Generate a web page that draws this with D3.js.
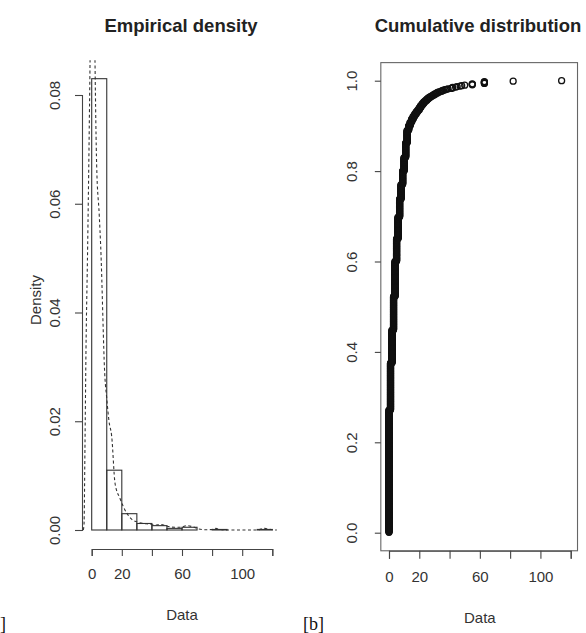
<!DOCTYPE html>
<html>
<head>
<meta charset="utf-8">
<script src="https://cdn.jsdelivr.net/npm/d3@7"></script>
<style>
  html, body { margin: 0; padding: 0; background: #fff; }
  svg { display: block; font-family: "Liberation Sans", Arial, sans-serif; }
</style>
</head>
<body>
<svg id="chart" width="586" height="633"></svg>
<script>
// observed values (integer data) and how many times each occurs, n = 1000
const sampleValues = [0, 1, 2, 3, 4, 5, 6, 7, 8, 9, 10,
  11, 12, 13, 14, 15, 16, 17, 18, 19, 20,
  21, 22, 23, 24, 25, 26, 27, 28, 29, 30,
  31, 32, 33, 34, 35, 36, 37, 38, 39,
  41, 42, 44, 45, 47, 48, 50, 55, 63, 82, 114];
const sampleCounts = [271, 104, 73, 74, 78, 50, 48, 40, 32, 30, 30,
  32, 28, 10, 8, 7, 6, 5, 5, 4, 5,
  5, 4, 4, 3, 3, 3, 2, 2, 2, 2,
  2, 2, 1, 1, 2, 1, 1, 1, 1,
  1, 2, 1, 1, 1, 1, 1, 3, 5, 1, 1];

// histogram breaks
const breaks = [0, 10, 20, 30, 40, 50, 60, 70, 80, 90, 100, 110, 120];

// kernel density curve
const densityX = [-5.6, -5.1, -4.5, -3.8, -2.7, -1.8, -1.1, -0.3, 0.8, 1.7, 2.2, 3.3, 5.0, 6.0,
  8.8, 9.9, 11.5, 13.3, 15.5, 18.8, 23.3, 26.5, 29.9, 34, 38, 42, 46, 50, 55, 59, 63, 67,
  71, 76, 80, 82.5, 85, 90, 100, 110, 113, 115, 117, 120, 123];
const densityY = [0, 0.001, 0.0147, 0.033, 0.052, 0.07, 0.086, 0.105, 0.112, 0.098, 0.086, 0.067, 0.058, 0.052,
  0.028, 0.0245, 0.02, 0.0172, 0.0086, 0.0058, 0.0031, 0.002, 0.0015, 0.0012, 0.0011, 0.0009, 0.001, 0.0007, 0.0005, 0.0005, 0.0008, 0.0006,
  0.0002, 0.00005, 0.0001, 0.0003, 0.0001, 0, 0, 0, 0.0002, 0.0003, 0.0002, 0.00005, 0];

const xTicks = [0, 20, 40, 60, 80, 100, 120];
const xTickLabels = ['0', '20', '', '60', '', '100', ''];
const densityTicks = [0, 0.02, 0.04, 0.06, 0.08];
const cdfTicks = [0, 0.2, 0.4, 0.6, 0.8, 1.0];

const svg = d3.select('#chart');
const ink = '#222';
const axisInk = '#444';

svg.append('rect').attr('width', 586).attr('height', 633).attr('fill', '#fff');

const n = d3.sum(sampleCounts);

// R style right-closed bins, lowest included
const bins = breaks.slice(0, -1).map((lo, i) => {
  const hi = breaks[i + 1];
  let count = 0;
  sampleValues.forEach((v, j) => {
    if ((v > lo || (i === 0 && v === lo)) && v <= hi) count += sampleCounts[j];
  });
  return { lo, hi, density: count / n / (hi - lo) };
});

// ---------- left panel: empirical density ----------
const xLeft = d3.scaleLinear().domain([0, 120]).range([91.7, 272.3]);
const yLeft = d3.scaleLinear().domain([0, 0.08]).range([530, 95]);
const leftXLim = [-6.4, 124.8];
const leftYLim = [-0.0035, 0.0864];

svg.append('clipPath').attr('id', 'clipLeft')
  .append('rect')
  .attr('x', xLeft(leftXLim[0]))
  .attr('y', yLeft(leftYLim[1]))
  .attr('width', xLeft(leftXLim[1]) - xLeft(leftXLim[0]))
  .attr('height', yLeft(leftYLim[0]) - yLeft(leftYLim[1]));

const left = svg.append('g');

left.selectAll('rect.bar')
  .data(bins)
  .join('rect')
  .attr('class', 'bar')
  .attr('x', d => xLeft(d.lo))
  .attr('y', d => yLeft(d.density))
  .attr('width', d => xLeft(d.hi) - xLeft(d.lo))
  .attr('height', d => yLeft(0) - yLeft(d.density))
  .attr('fill', 'none')
  .attr('stroke', '#333')
  .attr('stroke-width', 1.1);

const densityLine = d3.line()
  .x(i => xLeft(densityX[i]))
  .y(i => yLeft(densityY[i]))
  .curve(d3.curveMonotoneX);

left.append('path')
  .attr('d', densityLine(d3.range(densityX.length)))
  .attr('clip-path', 'url(#clipLeft)')
  .attr('fill', 'none')
  .attr('stroke', '#333')
  .attr('stroke-width', 1.1)
  .attr('stroke-dasharray', '3,2.5');

const leftXAxis = left.append('g')
  .attr('transform', `translate(0,${yLeft(leftYLim[0])})`)
  .call(d3.axisBottom(xLeft).tickValues(xTicks).tickSizeOuter(0).tickSize(7).tickPadding(12)
    .tickFormat((d, i) => xTickLabels[i]));

const leftYAxis = left.append('g')
  .attr('transform', `translate(82,0)`)
  .call(d3.axisLeft(yLeft).tickValues(densityTicks).tickSizeOuter(0).tickSize(7)
    .tickFormat(d3.format('.2f')));

leftYAxis.selectAll('text')
  .attr('x', null).attr('y', 0)
  .attr('dy', '0.35em')
  .attr('text-anchor', 'middle')
  .attr('transform', 'translate(-27,0) rotate(-90)');

left.append('text')
  .attr('x', 181).attr('y', 32)
  .attr('text-anchor', 'middle')
  .attr('font-weight', 'bold')
  .attr('font-size', 18.5)
  .attr('fill', ink)
  .text('Empirical density');

left.append('text')
  .attr('x', xLeft(60)).attr('y', 620)
  .attr('text-anchor', 'middle')
  .attr('font-size', 15)
  .attr('fill', '#333')
  .text('Data');

left.append('text')
  .attr('transform', 'translate(36,300) rotate(-90)')
  .attr('dy', '0.35em')
  .attr('text-anchor', 'middle')
  .attr('font-size', 15)
  .attr('fill', '#333')
  .text('Density');

// ---------- right panel: cumulative distribution ----------
const xRight = d3.scaleLinear().domain([0, 120]).range([389, 570.7]);
const yRight = d3.scaleLinear().domain([0, 1]).range([532.7, 80.7]);
const rightXLim = [-5.4, 124.5];
const rightYLim = [-0.04, 1.04];

const right = svg.append('g');

right.append('rect')
  .attr('x', xRight(rightXLim[0]))
  .attr('y', yRight(rightYLim[1]))
  .attr('width', xRight(rightXLim[1]) - xRight(rightXLim[0]))
  .attr('height', yRight(rightYLim[0]) - yRight(rightYLim[1]))
  .attr('fill', 'none')
  .attr('stroke', '#666')
  .attr('stroke-width', 1.1);

// one circle per observation, sorted, at rank / n
const points = [];
let rank = 0;
sampleValues.forEach((v, j) => {
  for (let k = 0; k < sampleCounts[j]; k++) {
    rank += 1;
    points.push({ x: v, p: rank / n });
  }
});

right.selectAll('circle')
  .data(points)
  .join('circle')
  .attr('cx', d => xRight(d.x))
  .attr('cy', d => yRight(d.p))
  .attr('r', 3)
  .attr('fill', 'none')
  .attr('stroke', '#111')
  .attr('stroke-width', 1.3);

const rightXAxis = right.append('g')
  .attr('transform', `translate(0,${yRight(rightYLim[0])})`)
  .call(d3.axisBottom(xRight).tickValues(xTicks).tickSizeOuter(0).tickSize(8).tickPadding(13)
    .tickFormat((d, i) => xTickLabels[i]));

const rightYAxis = right.append('g')
  .attr('transform', `translate(${xRight(rightXLim[0])},0)`)
  .call(d3.axisLeft(yRight).tickValues(cdfTicks).tickSizeOuter(0).tickSize(6)
    .tickFormat(d3.format('.1f')));

rightYAxis.select('.domain').remove();

rightYAxis.selectAll('text')
  .attr('x', null).attr('y', 0)
  .attr('dy', '0.35em')
  .attr('text-anchor', 'middle')
  .attr('transform', 'translate(-29,0) rotate(-90)');

right.append('text')
  .attr('x', 478).attr('y', 32)
  .attr('text-anchor', 'middle')
  .attr('font-weight', 'bold')
  .attr('font-size', 18.5)
  .attr('fill', ink)
  .text('Cumulative distribution');

right.append('text')
  .attr('x', xRight(60)).attr('y', 623)
  .attr('text-anchor', 'middle')
  .attr('font-size', 15)
  .attr('fill', '#333')
  .text('Data');

// axis styling, same for both panels
[leftXAxis, leftYAxis, rightXAxis, rightYAxis].forEach(g => {
  g.selectAll('.domain, line').attr('stroke', axisInk).attr('stroke-width', 1.1);
  g.selectAll('text').attr('font-size', 15).attr('fill', '#333')
    .attr('font-family', '"Liberation Sans", Arial, sans-serif');
});

// panel tags under the plots (only the closing bracket of the first one is in frame)
svg.append('text')
  .attr('x', 0).attr('y', 630)
  .attr('font-family', '"Liberation Serif", "Times New Roman", serif')
  .attr('font-size', 18)
  .attr('fill', '#111')
  .text(']');

svg.append('text')
  .attr('x', 303).attr('y', 630)
  .attr('font-family', '"Liberation Serif", "Times New Roman", serif')
  .attr('font-size', 18)
  .attr('fill', '#111')
  .text('[b]');
</script>
</body>
</html>
